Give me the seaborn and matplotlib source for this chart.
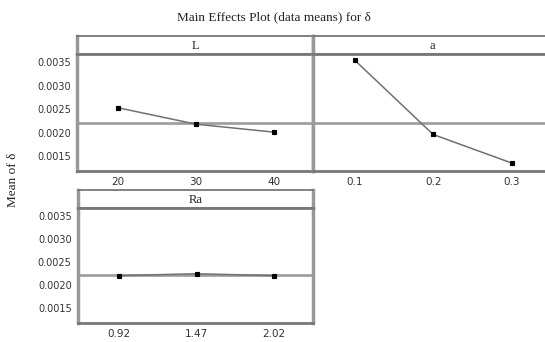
import numpy as np
import pandas as pd
import matplotlib
matplotlib.use("Agg")
import matplotlib.pyplot as plt
import seaborn as sns

# data means
L_levels = ["20", "30", "40"]
L_means = [0.00253, 0.00218, 0.00201]
a_levels = ["0.1", "0.2", "0.3"]
a_means = [0.00355, 0.00196, 0.00135]
Ra_levels = ["0.92", "1.47", "2.02"]
Ra_means = [0.00221, 0.00225, 0.00221]
grand_mean = 0.002215
y_ticks = [0.0015, 0.0020, 0.0025, 0.0030, 0.0035]

sns.set_style("white")
plt.rcParams["font.family"] = ["DejaVu Sans"]

W, H = 545, 342
fig = plt.figure(figsize=(W / 100, H / 100), dpi=100)

frame_col = "#999999"
dark_frame = "#777777"
line_col = "#707070"
ref_col = "#a0a0a0"
serif = ["Liberation Serif", "DejaVu Serif"]


def px_axes(left, top, right, bottom):
    return fig.add_axes([left / W, 1 - bottom / H, (right - left) / W, (bottom - top) / H])


def panel(left, right, head_top, head_bot, bot, name, levels, means, show_y):
    # header strip
    hx = px_axes(left, head_top, right, head_bot)
    hx.set_xticks([])
    hx.set_yticks([])
    for side, s in hx.spines.items():
        s.set_color(frame_col)
        s.set_linewidth(2.5)
    hx.spines["top"].set_color(dark_frame)
    hx.spines["top"].set_linewidth(1.3)
    hx.spines["bottom"].set_color(dark_frame)
    hx.spines["bottom"].set_linewidth(2)
    hx.text(0.5, 0.45, name, transform=hx.transAxes, ha="center", va="center",
            fontsize=9, family=serif, color="#222222")

    ax = px_axes(left, head_bot, right, bot)
    df = pd.DataFrame({"level": levels, "mean": means})
    ax.axhline(grand_mean, color=ref_col, lw=2, zorder=1)
    sns.pointplot(data=df, x="level", y="mean", order=levels, ax=ax,
                  color=line_col, markers="s", markersize=3.5, linewidth=1.1,
                  errorbar=None)
    for ln in ax.lines[1:]:
        ln.set_markerfacecolor("black")
        ln.set_markeredgecolor("black")
        ln.set_zorder(3)
    ax.set_xlim(-0.53, 2.5)
    ax.set_ylim(0.00118, 0.00368)
    ax.set_yticks(y_ticks)
    ax.set_yticklabels(["%.4f" % v for v in y_ticks])
    ax.set_xlabel("")
    ax.set_ylabel("")
    for s in ax.spines.values():
        s.set_color(frame_col)
        s.set_linewidth(2.5)
    ax.spines["top"].set_color(dark_frame)
    ax.spines["top"].set_linewidth(2)
    ax.spines["bottom"].set_color(dark_frame)
    ax.spines["bottom"].set_linewidth(2)
    ax.tick_params(axis="both", direction="out", length=2.5, width=1,
                   color="#666666", labelsize=7.5, labelcolor="#333333", pad=2)
    ax.tick_params(axis="y", labelsize=7)
    if not show_y:
        ax.tick_params(axis="y", left=False, labelleft=False)
    return ax


panel(77, 313, 36, 54, 171, "L", L_levels, L_means, True)
panel(313, 551, 36, 54, 171, "a", a_levels, a_means, False)
panel(78, 313, 190, 208, 323, "Ra", Ra_levels, Ra_means, True)

fig.text(274 / W, 1 - 17 / H, "Main Effects Plot (data means) for \u03b4",
         ha="center", va="center", fontsize=9.5, family=serif, color="#222222")
fig.text(13 / W, 1 - 180 / H, "Mean of \u03b4", rotation=90,
         ha="center", va="center", fontsize=9.5, family=serif, color="#222222")

fig.savefig("out.png", dpi=100)
